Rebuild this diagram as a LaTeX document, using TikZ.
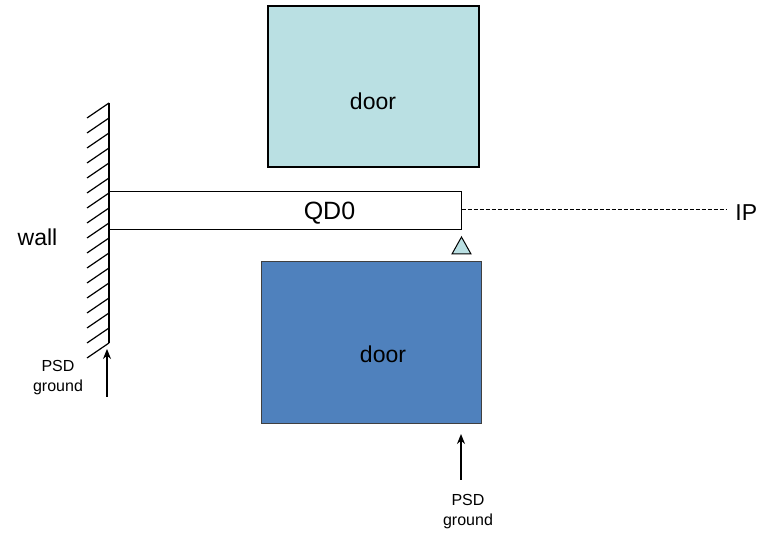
\documentclass[tikz,border=0pt]{standalone}
\usepackage{fontspec}
\setmainfont{Liberation Sans}
\usetikzlibrary{arrows.meta, positioning}
\definecolor{doorlight}{HTML}{BAE0E3}
\definecolor{doordark}{HTML}{4F81BD}
\tikzset{
    doortop/.style={
        rectangle, draw=black, line width=0.75pt,
        fill=doorlight, inner sep=0pt
    },
    doorbottom/.style={
        rectangle, draw=black!75, line width=0.5pt,
        fill=doordark, inner sep=0pt
    },
    beam/.style={
        rectangle, draw=black, line width=0.5pt,
        fill=white, inner sep=0pt
    },
    wallline/.style={draw=black, line width=0.75pt},
    hatch/.style={draw=black, line width=0.6pt},
    push/.style={draw=black, line width=0.75pt, -{Stealth[length=5pt,width=4pt]}},
    axisline/.style={draw=black, line width=0.5pt, dash pattern=on 2pt off 1pt},
    support/.style={draw=black, line width=0.5pt, fill=doorlight},
    biglabel/.style={font=\fontsize{11.5}{13}\selectfont, inner sep=0pt},
    smalllabel/.style={font=\fontsize{8}{10}\selectfont, align=center, inner sep=0pt}
}

\begin{document}
\begin{tikzpicture}[x=0.5pt, y=-0.5pt]
\useasboundingbox (0,0) rectangle (773,533);

% Doors
\node[doortop, minimum width=105.5pt, minimum height=80.5pt] (door1) at (373.5,86.5) {};
\node[biglabel] (door1text) at (373,101) {door};

\node[doorbottom, minimum width=110pt, minimum height=81pt] (door2) at (371,343) {};
\node[biglabel] (door2text) at (383,354) {door};

% Wall
\coordinate (walltop) at (109,103);
\coordinate (wallbase) at (109,343);
\draw[wallline] (walltop) -- (wallbase);
\foreach \k in {0,...,16}
    \draw[hatch] (109,103+15*\k) -- (87,118+15*\k);
\node[biglabel] (walltext) at (37.5,237) {wall};

% QD0
\node[beam, minimum width=176pt, minimum height=19pt] (qd0) at (285,211) {};
\node[biglabel, font=\fontsize{12.5}{14}\selectfont] (qd0text) at (329.5,213) {QD0};

% IP
\node[biglabel, anchor=west] (ip) at (735,213) {IP};
\coordinate (ipend) at (727,209.5);
\draw[axisline] (qd0.east |- ipend) -- (ipend);

% Support
\draw[support] (461.5,237) -- (471,254) -- (452,254) -- cycle;

% PSD ground
\node[smalllabel] (gnd1) at (58,378) {PSD\\ground};
\coordinate (gnd1tail) at (107,397);
\coordinate (gnd1head) at (107,349);
\draw[push] (gnd1tail) -- (gnd1head);

\node[smalllabel] (gnd2) at (468,512) {PSD\\ground};
\coordinate (gnd2tail) at (461,480);
\coordinate (gnd2head) at (461,434);
\draw[push] (gnd2tail) -- (gnd2head);

\end{tikzpicture}
\end{document}
